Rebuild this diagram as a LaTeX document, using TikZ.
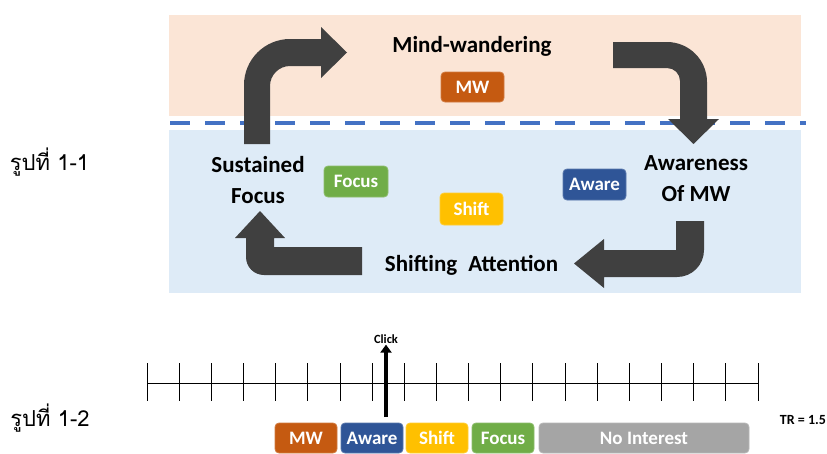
\documentclass[tikz,border=0pt]{standalone}
\usepackage{fontspec}
\setmainfont{Carlito}
\newfontfamily\thaifont[Script=Thai]{Loma}
\usetikzlibrary{arrows.meta}
\definecolor{pinkband}{HTML}{FBE5D6}
\definecolor{blueband}{HTML}{DEEBF7}
\definecolor{arrowgray}{HTML}{404040}
\definecolor{dashblue}{HTML}{4472C4}
\definecolor{mwc}{HTML}{C55A11}
\definecolor{awarec}{HTML}{2F5597}
\definecolor{shiftc}{HTML}{FFC000}
\definecolor{focusc}{HTML}{70AD47}
\definecolor{noc}{HTML}{A5A5A5}
\begin{document}
\begin{tikzpicture}[x=1pt,y=-1pt,
  tag/.style={fill=#1, draw=#1!80!white, line width=0.8pt, rounded corners=4pt,
    text=white, font=\fontsize{19}{22}\selectfont\bfseries, inner sep=0pt,
    text height=12.2pt, text depth=0pt},
  lbl/.style={font=\fontsize{23}{31}\selectfont\bfseries, align=center, inner sep=0pt},
  blockarrow/.style={fill=arrowgray, draw=none},
  thai/.style={font=\thaifont\fontsize{22}{26}\selectfont, inner sep=0pt}]
\useasboundingbox (0,0) rectangle (827,453);
\fill[white] (0,0) rectangle (827,453);
% bands
\fill[pinkband] (169,15) rectangle (801,116);
\fill[blueband] (169,130) rectangle (801,293);
\draw[dashblue, line width=4.5pt, dash pattern=on 20pt off 15pt] (170,123) -- (806,123);
% block arrows
\path[blockarrow] (244,144) -- (244,85) .. controls (244,59.6) and (264.6,39) .. (290,39)
  -- (321,39) -- (321,27) -- (347,52.5) -- (321,78) -- (321,66) -- (290,66)
  .. controls (279,66) and (270,75) .. (270,86) -- (270,144) -- cycle;
\path[blockarrow] (613,42) -- (667,42) .. controls (689,42) and (707,60) .. (707,82)
  -- (707,119) -- (719,119) -- (693.5,144) -- (668,119) -- (680,119) -- (680,81)
  .. controls (680,73.8) and (674.2,68) .. (667,68) -- (613,68) -- cycle;
\path[blockarrow] (676,221) -- (704,221) -- (704,250) .. controls (704,265) and (692,277) .. (677,277)
  -- (604,277) -- (604,288) -- (574,263.5) -- (604,239) -- (604,250) -- (676,250) -- cycle;
\path[blockarrow] (362,247) -- (274,247) -- (274,238) -- (285,238) -- (260,211) -- (235,238)
  -- (246,238) -- (246,257) .. controls (246,267) and (254,275) .. (264,275) -- (362,275) -- cycle;
% labels
\node[lbl, anchor=base] (mind) at (472,52) {Mind-wandering};
\node[lbl, anchor=base] (sust) at (258,203) {Sustained\\Focus};
\node[lbl, anchor=base] (awar) at (696,201) {Awareness\\Of MW};
\node[lbl, anchor=base] (shifting) at (471.5,271) {Shifting\hspace{0.25em} Attention};
% tags
\node[tag=mwc, minimum width=63pt, minimum height=30pt] (mw) at (472.5,87) {MW};
\node[tag=focusc, minimum width=64pt, minimum height=31pt] (focus) at (356,181.5) {Focus};
\node[tag=shiftc, minimum width=63pt, minimum height=32pt] (shift) at (471.5,209) {Shift};
\node[tag=awarec, minimum width=63pt, minimum height=31pt] (aware) at (594.5,184.5) {Aware};
% thai captions
\node[thai] (cap1) at (49.5,162) {รูปที่ 1-1};
\node[thai] (cap2) at (50,418) {รูปที่ 1-2};
% timeline
\draw[line width=0.9pt] (147,383) -- (758,383);
\foreach \i in {0,...,19} {
  \draw[line width=0.9pt] ({147+32.158*\i},363) -- ({147+32.158*\i},401);
}
\node[font=\fontsize{12.5}{14}\selectfont\bfseries, inner sep=1pt] (click) at (386,339) {Click};
\coordinate (clickbase) at (386,417);
\draw[line width=4pt, -{Triangle[width=11pt,length=8pt]}] (clickbase) -- (click.south);
\node[font=\fontsize{14}{16}\selectfont\bfseries, inner sep=0pt] (tr) at (803,420) {TR = 1.5};
\node[tag=mwc, minimum width=62pt, minimum height=30pt] (bmw) at (306,438) {MW};
\node[tag=awarec, minimum width=62pt, minimum height=30pt] (baware) at (372,438) {Aware};
\node[tag=shiftc, minimum width=62pt, minimum height=30pt] (bshift) at (437,438) {Shift};
\node[tag=focusc, minimum width=62pt, minimum height=30pt] (bfocus) at (503,438) {Focus};
\node[tag=noc, minimum width=210pt, minimum height=30pt] (bno) at (644,438) {No Interest};
\end{tikzpicture}
\end{document}
